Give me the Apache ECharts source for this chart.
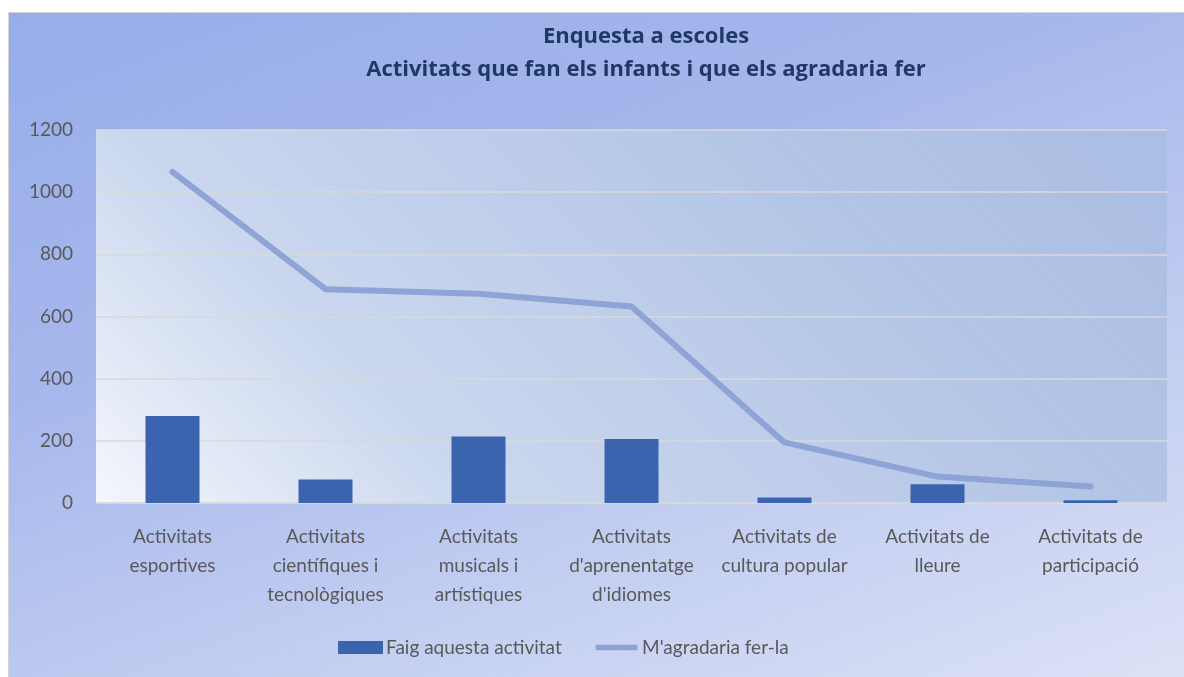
<!DOCTYPE html>
<html>
<head>
<meta charset="utf-8">
<script src="https://cdn.jsdelivr.net/npm/echarts@6/dist/echarts.min.js"></script>
<style>
    html, body { margin: 0; padding: 0; background: #ffffff; }
    #frame {
        position: absolute; left: 8px; top: 12px; width: 1190px; height: 680px;
        border: 1px solid #d4d4d4; box-sizing: border-box;
        background: linear-gradient(160deg, #97ade9 0%, #a6b7ec 35%, #c4cff1 70%, #dde2f6 100%);
    }
    #chart { position: absolute; left: 0; top: 0; width: 1184px; height: 677px; }
</style>
</head>
<body>
<div id="frame"></div>
<div id="chart"></div>
<script>
    // categories (wrapped as in the original)
    var categories = [
        'Activitats\nesportives',
        'Activitats\ncientífiques i\ntecnològiques',
        'Activitats\nmusicals i\nartístiques',
        "Activitats\nd'aprenentatge\nd'idiomes",
        'Activitats de\ncultura popular',
        'Activitats de\nlleure',
        'Activitats de\nparticipació'
    ];
    var faigValues = [280, 76, 214, 206, 18, 60, 9];          // Faig aquesta activitat
    var agradariaValues = [1065, 688, 673, 632, 195, 85, 53]; // M'agradaria fer-la
    var yTicks = [0, 200, 400, 600, 800, 1000, 1200];

    var font = 'Lato, "Open Sans", sans-serif';

    // fons de l'area de dibuix (coordenades globals)
    var plotBg = new echarts.graphic.LinearGradient(130, 560, 830, -140, [
        { offset: 0, color: '#f6f8fd' },
        { offset: 0.3, color: '#cad7ee' },
        { offset: 0.75, color: '#b3c5e6' },
        { offset: 1, color: '#abbee3' }
    ], true);

    var option = {
        backgroundColor: 'transparent',
        animation: false,
        title: {
            text: 'Enquesta a escoles\nActivitats que fan els infants i que els agradaria fer',
            left: 641,
            top: 15,
            textAlign: 'center',
            textStyle: {
                fontFamily: '"Open Sans", sans-serif',
                fontWeight: 'bold',
                fontSize: 22,
                lineHeight: 33,
                color: '#1f3864'
            }
        },
        legend: {
            top: 633,
            left: 333,
            itemGap: 34,
            itemWidth: 45,
            itemHeight: 13,
            textStyle: { fontFamily: font, fontSize: 19, color: '#595959', padding: [0, 0, 0, -2] },
            data: [
                { name: 'Faig aquesta activitat', icon: 'rect' },
                { name: "M'agradaria fer-la", icon: 'path://M0,0M0,4L45,4L45,10L0,10ZM45,14' }
            ]
        },
        grid: {
            left: 96,
            right: 17,
            top: 130,
            bottom: 174,
            show: true,
            borderWidth: 0,
            backgroundColor: plotBg
        },
        xAxis: {
            type: 'category',
            data: categories,
            axisTick: { show: false },
            axisLine: { lineStyle: { color: '#d9d9d9', width: 1.5 } },
            axisLabel: {
                interval: 0,
                margin: 19,
                fontFamily: font,
                fontSize: 19,
                lineHeight: 29,
                color: '#595959'
            }
        },
        yAxis: {
            type: 'value',
            min: yTicks[0],
            max: yTicks[yTicks.length - 1],
            interval: 200,
            axisLine: { show: false },
            axisTick: { show: false },
            splitLine: { lineStyle: { color: '#d9d9d9', width: 1.5 } },
            axisLabel: {
                margin: 23,
                fontFamily: font,
                fontSize: 19,
                color: '#595959',
                formatter: function (v) { return String(v); }
            }
        },
        series: [
            {
                name: 'Faig aquesta activitat',
                type: 'bar',
                data: faigValues,
                barWidth: 54,
                itemStyle: { color: '#3c64ae' }
            },
            {
                name: "M'agradaria fer-la",
                type: 'line',
                data: agradariaValues,
                symbol: 'none',
                lineStyle: { color: '#8ea3d6', width: 6, cap: 'round', join: 'round' },
                itemStyle: { color: '#8ea3d6' }
            }
        ]
    };

    var myChart = echarts.init(document.getElementById('chart'));
    myChart.setOption(option);
</script>
</body>
</html>
